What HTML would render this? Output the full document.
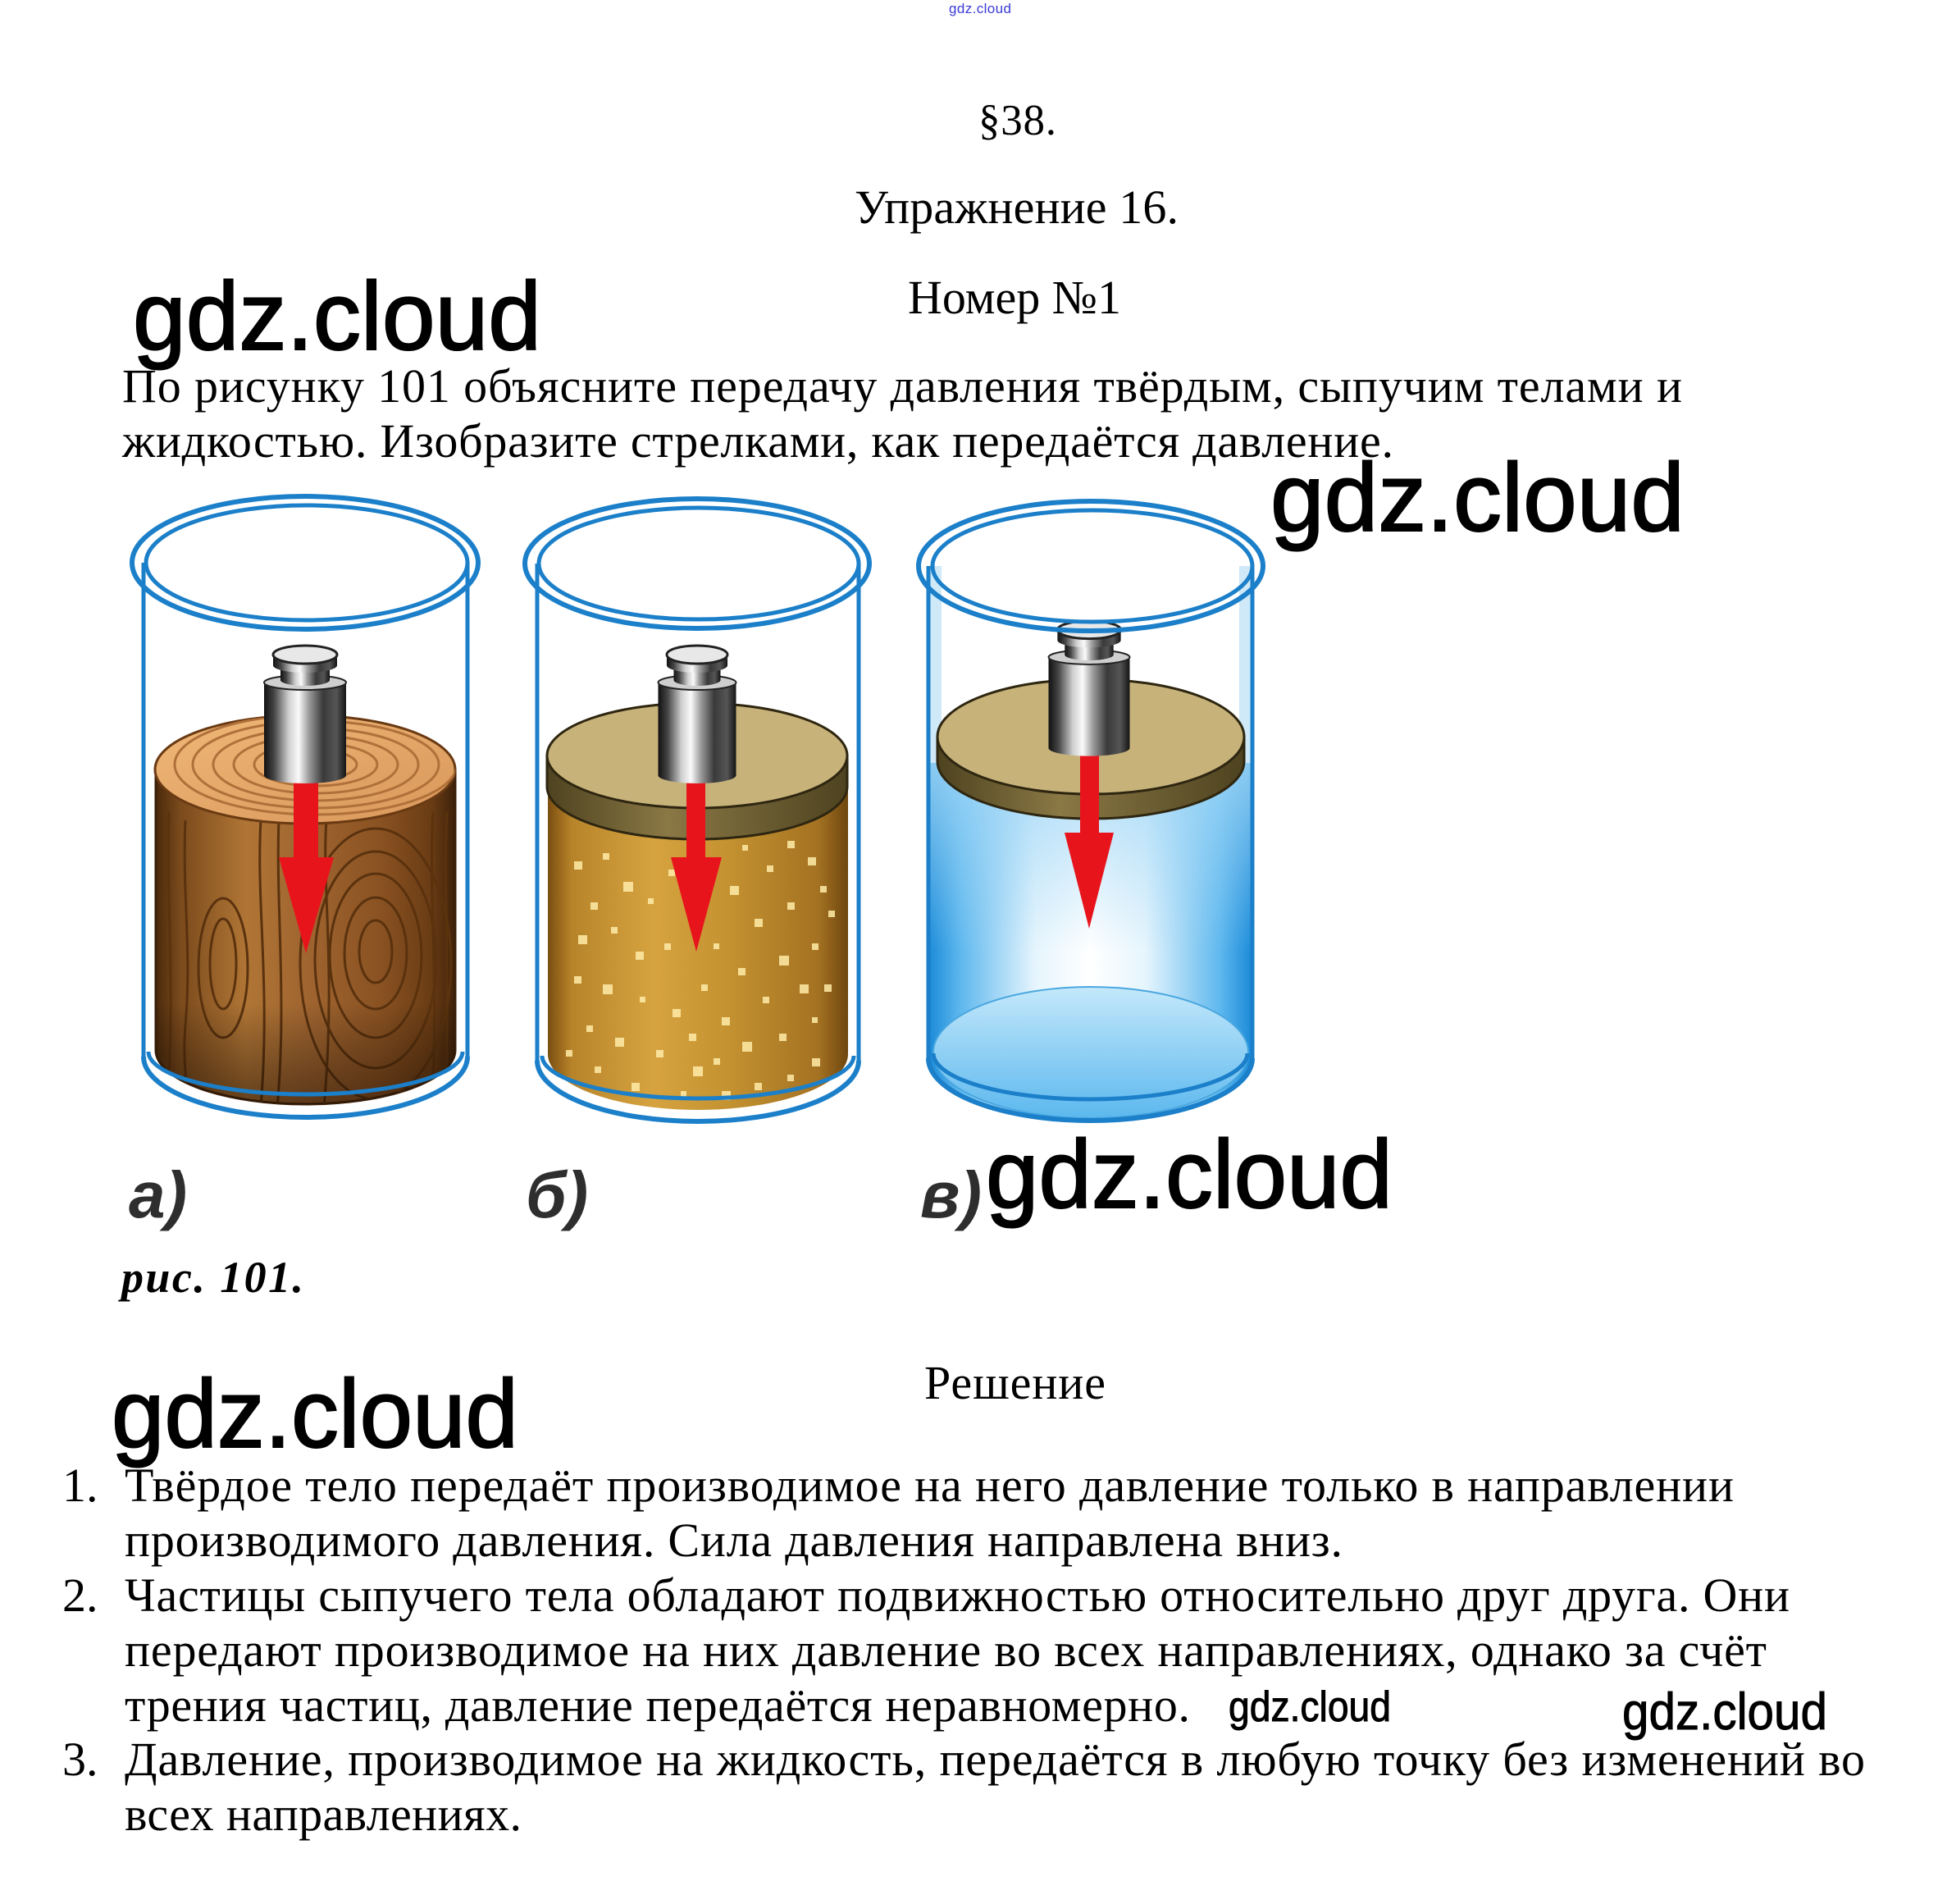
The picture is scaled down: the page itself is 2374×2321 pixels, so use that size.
<!DOCTYPE html>
<html><head><meta charset="utf-8"><style>
html,body{margin:0;padding:0;background:#fff;}
svg{display:block;}
</style></head><body>
<svg width="2374" height="2321" viewBox="0 0 2374 2321" xmlns="http://www.w3.org/2000/svg">
<defs>
<linearGradient id="metal" x1="0" x2="1" y1="0" y2="0">
<stop offset="0" stop-color="#111"/><stop offset=".12" stop-color="#444"/><stop offset=".3" stop-color="#cfcfcf"/><stop offset=".42" stop-color="#fafafa"/><stop offset=".55" stop-color="#9a9a9a"/><stop offset=".72" stop-color="#3a3a3a"/><stop offset=".88" stop-color="#555"/><stop offset="1" stop-color="#151515"/>
</linearGradient>
<linearGradient id="woodBody" x1="0" x2="1" y1="0" y2="0">
<stop offset="0" stop-color="#4a290b"/><stop offset=".08" stop-color="#7a4a1c"/><stop offset=".3" stop-color="#b07535"/><stop offset=".5" stop-color="#a06530"/><stop offset=".75" stop-color="#8a5222"/><stop offset=".92" stop-color="#6a3c14"/><stop offset="1" stop-color="#3e220a"/>
</linearGradient>
<linearGradient id="woodShade" x1="0" x2="0" y1="0" y2="1">
<stop offset="0" stop-color="#000" stop-opacity="0"/><stop offset=".7" stop-color="#000" stop-opacity="0"/><stop offset="1" stop-color="#1a0c02" stop-opacity=".5"/>
</linearGradient>
<linearGradient id="woodTop" x1="0" x2="1" y1="0" y2="1">
<stop offset="0" stop-color="#f0b878"/><stop offset="1" stop-color="#d8975a"/>
</linearGradient>
<linearGradient id="sand" x1="0" x2="1" y1="0" y2="0">
<stop offset="0" stop-color="#7a4e10"/><stop offset=".08" stop-color="#b8842a"/><stop offset=".35" stop-color="#d6a340"/><stop offset=".6" stop-color="#c49230"/><stop offset=".9" stop-color="#a47222"/><stop offset="1" stop-color="#6e460e"/>
</linearGradient>
<linearGradient id="diskSide" x1="0" x2="1" y1="0" y2="0">
<stop offset="0" stop-color="#4e4320"/><stop offset=".4" stop-color="#8a7845"/><stop offset="1" stop-color="#4e4320"/>
</linearGradient>
<linearGradient id="water" x1="0" x2="1" y1="0" y2="0">
<stop offset="0" stop-color="#1a8ad8"/><stop offset=".1" stop-color="#5fb8ee"/><stop offset=".33" stop-color="#e6f5fd"/><stop offset=".5" stop-color="#ffffff"/><stop offset=".67" stop-color="#e6f5fd"/><stop offset=".9" stop-color="#5fb8ee"/><stop offset="1" stop-color="#1a8ad8"/>
</linearGradient>
<linearGradient id="waterTop" x1="0" x2="0" y1="0" y2="1">
<stop offset="0" stop-color="#9fd6f6" stop-opacity=".85"/><stop offset="1" stop-color="#9fd6f6" stop-opacity="0"/>
</linearGradient>
<linearGradient id="waterBottom" x1="0" x2="0" y1="0" y2="1">
<stop offset="0" stop-color="#c4e8fb"/><stop offset="1" stop-color="#5cb8ee"/>
</linearGradient>
<clipPath id="woodTopClip"><ellipse cx="372" cy="938" rx="183" ry="66"/></clipPath>
<clipPath id="woodBodyClip"><path d="M190 938 L190 1280 A182.5 66 0 0 0 555 1280 L555 938 Z"/></clipPath>
<clipPath id="sandClip"><path d="M668 960 L668 1285 A183 68 0 0 0 1034 1285 L1034 960 Z"/></clipPath>
<g id="wt">
 <path d="M-50 45 L-50 158 A50 10 0 0 0 50 158 L50 45 Z" fill="url(#metal)"/>
 <ellipse cx="0" cy="45" rx="50" ry="9" fill="#cfcfcf" stroke="#222" stroke-width="2"/>
 <path d="M-30 24 L-30 42 A30 7 0 0 0 30 42 L30 24 Z" fill="url(#metal)"/>
 <path d="M-39 11 L-39 24 A39 9 0 0 0 39 24 L39 11 Z" fill="url(#metal)"/>
 <ellipse cx="0" cy="11" rx="39" ry="11" fill="#e8e8e8" stroke="#222" stroke-width="3"/>
</g>
</defs>

<!-- tiny link -->
<text x="1157" y="16" font-family="Liberation Sans, sans-serif" font-size="17" fill="#3b3bd6" textLength="76">gdz.cloud</text>

<!-- headings -->
<g font-family="Liberation Serif, serif" fill="#000">
<text x="1193" y="164" font-size="53" textLength="95">§38.</text>
<text x="1042" y="272" font-size="58" textLength="395">Упражнение 16.</text>
<text x="1107" y="382" font-size="58" textLength="260">Номер №1</text>
<text x="149" y="490" font-size="58" textLength="1902">По рисунку 101 объясните передачу давления твёрдым, сыпучим телами и</text>
<text x="149" y="557" font-size="58" textLength="1550">жидкостью. Изобразите стрелками, как передаётся давление.</text>
<text x="1127" y="1705" font-size="58" textLength="221">Решение</text>
<text x="76" y="1830" font-size="58">1.</text>
<text x="76" y="1964" font-size="58">2.</text>
<text x="76" y="2164" font-size="58">3.</text>
<text x="152" y="1830" font-size="58" textLength="1962">Твёрдое тело передаёт производимое на него давление только в направлении</text>
<text x="152" y="1897" font-size="58" textLength="1485">производимого давления. Сила давления направлена вниз.</text>
<text x="152" y="1964" font-size="58" textLength="2030">Частицы сыпучего тела обладают подвижностью относительно друг друга. Они</text>
<text x="152" y="2031" font-size="58" textLength="2002">передают производимое на них давление во всех направлениях, однако за счёт</text>
<text x="152" y="2098" font-size="58" textLength="1299">трения частиц, давление передаётся неравномерно.</text>
<text x="152" y="2164" font-size="58" textLength="2122">Давление, производимое на жидкость, передаётся в любую точку без изменений во</text>
<text x="152" y="2231" font-size="58" textLength="484">всех направлениях.</text>
<text x="148" y="1575" font-size="54" font-weight="bold" font-style="italic" textLength="222">рис. 101.</text>
</g>

<!-- ===== Beaker A (wood) ===== -->
<g>
 <path d="M190 938 L190 1280 A182.5 66 0 0 0 555 1280 L555 938 Z" fill="url(#woodBody)" stroke="#3a1f08" stroke-width="3"/>
 <g clip-path="url(#woodBodyClip)" fill="none" stroke="#5a320e" stroke-width="3">
  <path d="M206 990 C202 1090 214 1190 204 1350"/>
  <path d="M226 1000 C222 1090 234 1160 226 1250 C222 1300 230 1330 228 1350"/>
  <ellipse cx="272" cy="1175" rx="16" ry="55"/>
  <ellipse cx="272" cy="1180" rx="30" ry="85"/>
  <path d="M318 1000 C312 1100 330 1200 318 1350"/>
  <path d="M340 1000 C336 1100 350 1220 338 1350"/>
  <path d="M398 1000 C392 1080 410 1180 395 1350"/>
  <ellipse cx="458" cy="1160" rx="20" ry="38"/>
  <ellipse cx="458" cy="1162" rx="38" ry="68"/>
  <ellipse cx="458" cy="1165" rx="56" ry="100"/>
  <ellipse cx="458" cy="1170" rx="74" ry="132"/>
  <ellipse cx="458" cy="1175" rx="92" ry="165"/>
  <path d="M528 990 C522 1090 536 1200 526 1350"/>
  <path d="M545 990 C540 1090 550 1200 542 1350"/>
 </g>
 <path d="M190 938 L190 1280 A182.5 66 0 0 0 555 1280 L555 938 Z" fill="url(#woodShade)"/>
 <ellipse cx="372" cy="938" rx="183" ry="66" fill="url(#woodTop)" stroke="#6a3a12" stroke-width="3"/>
 <g clip-path="url(#woodTopClip)" fill="none" stroke="#b0703a" stroke-width="3">
  <ellipse cx="385" cy="932" rx="25" ry="9"/>
  <ellipse cx="385" cy="932" rx="50" ry="18"/>
  <ellipse cx="385" cy="932" rx="75" ry="26"/>
  <ellipse cx="385" cy="932" rx="100" ry="35"/>
  <ellipse cx="385" cy="932" rx="125" ry="44"/>
  <ellipse cx="385" cy="932" rx="150" ry="53"/>
  <ellipse cx="385" cy="932" rx="172" ry="61"/>
 </g>
 <rect x="358" y="945" width="30" height="102" fill="#e8141c"/>
 <polygon points="340,1045 407,1045 373,1162" fill="#e8141c"/>
 <use href="#wt" transform="translate(372,787)"/>
 <!-- glass -->
 <g fill="none" stroke="#1b7fc9">
  <line x1="175" y1="686" x2="175" y2="1290" stroke-width="5"/>
  <line x1="570" y1="686" x2="570" y2="1290" stroke-width="5"/>
  <path d="M175 1288 A197.5 74 0 0 0 570 1288" stroke-width="6"/>
  <path d="M181 1282 A191.5 52 0 0 0 564 1282" stroke-width="5"/>
  <ellipse cx="372" cy="686" rx="211" ry="81" stroke-width="6"/>
  <ellipse cx="374" cy="686" rx="196" ry="70" stroke-width="5"/>
 </g>
</g>

<!-- ===== Beaker B (sand) ===== -->
<g>
 <path d="M668 960 L668 1285 A183 68 0 0 0 1034 1285 L1034 960 Z" fill="url(#sand)"/>
 <g clip-path="url(#sandClip)" fill="#ffeca8" opacity=".85">
  <rect x="700" y="1050" width="10" height="10"/><rect x="735" y="1040" width="8" height="8"/><rect x="760" y="1075" width="12" height="12"/><rect x="720" y="1100" width="9" height="9"/><rect x="790" y="1095" width="7" height="7"/><rect x="705" y="1140" width="11" height="11"/><rect x="745" y="1130" width="8" height="8"/><rect x="775" y="1160" width="10" height="10"/><rect x="810" y="1150" width="8" height="8"/><rect x="700" y="1190" width="9" height="9"/><rect x="735" y="1200" width="12" height="12"/><rect x="780" y="1215" width="7" height="7"/><rect x="820" y="1230" width="10" height="10"/><rect x="715" y="1250" width="8" height="8"/><rect x="750" y="1265" width="11" height="11"/><rect x="800" y="1280" width="9" height="9"/><rect x="845" y="1300" width="12" height="12"/><rect x="725" y="1300" width="8" height="8"/><rect x="770" y="1320" width="10" height="10"/><rect x="830" y="1330" width="7" height="7"/><rect x="880" y="1330" width="11" height="11"/><rect x="920" y="1320" width="9" height="9"/><rect x="960" y="1310" width="8" height="8"/><rect x="990" y="1290" width="10" height="10"/><rect x="870" y="1290" width="8" height="8"/><rect x="905" y="1270" width="12" height="12"/><rect x="950" y="1260" width="9" height="9"/><rect x="990" y="1240" width="7" height="7"/><rect x="880" y="1240" width="10" height="10"/><rect x="930" y="1215" width="8" height="8"/><rect x="975" y="1200" width="11" height="11"/><rect x="900" y="1180" width="9" height="9"/><rect x="950" y="1165" width="12" height="12"/><rect x="990" y="1150" width="8" height="8"/><rect x="870" y="1150" width="7" height="7"/><rect x="920" y="1120" width="10" height="10"/><rect x="960" y="1100" width="9" height="9"/><rect x="1000" y="1080" width="8" height="8"/><rect x="890" y="1080" width="11" height="11"/><rect x="935" y="1055" width="8" height="8"/><rect x="985" y="1045" width="10" height="10"/><rect x="905" y="1030" width="7" height="7"/><rect x="960" y="1025" width="9" height="9"/><rect x="1010" y="1110" width="8" height="8"/><rect x="855" y="1200" width="8" height="8"/><rect x="840" y="1260" width="9" height="9"/><rect x="1005" y="1200" width="9" height="9"/><rect x="690" y="1280" width="8" height="8"/><rect x="815" y="1060" width="8" height="8"/>
 </g>
 <path d="M667 921 L667 959 A183 64 0 0 0 1033 959 L1033 921 Z" fill="url(#diskSide)" stroke="#2e2610" stroke-width="3"/>
 <ellipse cx="850" cy="921" rx="183" ry="64" fill="#c7b27a" stroke="#2e2610" stroke-width="3"/>
 <rect x="837" y="945" width="23" height="102" fill="#e8141c"/>
 <polygon points="818,1045 880,1045 849,1160" fill="#e8141c"/>
 <use href="#wt" transform="translate(850,787) scale(0.95,1)"/>
 <g fill="none" stroke="#1b7fc9">
  <line x1="655" y1="687" x2="655" y2="1295" stroke-width="5"/>
  <line x1="1047" y1="687" x2="1047" y2="1295" stroke-width="5"/>
  <path d="M655 1293 A196 74 0 0 0 1047 1293" stroke-width="6"/>
  <path d="M661 1287 A190 52 0 0 0 1041 1287" stroke-width="5"/>
  <ellipse cx="850" cy="687" rx="210" ry="79" stroke-width="6"/>
  <ellipse cx="852" cy="687" rx="195" ry="68" stroke-width="5"/>
 </g>
</g>

<!-- ===== Beaker C (water) ===== -->
<g>
 <rect x="1134" y="690" width="14" height="240" fill="#cfe9f9"/>
 <rect x="1511" y="690" width="14" height="240" fill="#cfe9f9"/>
 <path d="M1132 930 L1132 1290 A197.5 76 0 0 0 1527 1290 L1527 930 Z" fill="url(#water)"/>
 <rect x="1134" y="930" width="391" height="230" fill="url(#waterTop)"/>
 <ellipse cx="1330" cy="1283" rx="192" ry="80" fill="url(#waterBottom)" stroke="#4aa8e0" stroke-width="2"/>
 <path d="M1143 898 L1143 928 A187 70 0 0 0 1517 928 L1517 898 Z" fill="url(#diskSide)" stroke="#2e2610" stroke-width="3"/>
 <ellipse cx="1330" cy="898" rx="187" ry="70" fill="#c7b27a" stroke="#2e2610" stroke-width="3"/>
 <rect x="1317" y="918" width="23" height="99" fill="#e8141c"/>
 <polygon points="1298,1015 1358,1015 1328,1132" fill="#e8141c"/>
 <use href="#wt" transform="translate(1328,757) scale(0.99,0.98)"/>
 <g fill="none" stroke="#1b7fc9">
  <line x1="1132" y1="690" x2="1132" y2="1292" stroke-width="5"/>
  <line x1="1527" y1="690" x2="1527" y2="1292" stroke-width="5"/>
  <path d="M1132 1290 A197.5 76 0 0 0 1527 1290" stroke-width="6"/>
  <path d="M1138 1284 A191.5 56 0 0 0 1521 1284" stroke-width="5"/>
  <ellipse cx="1330" cy="690" rx="210" ry="79" stroke-width="6"/>
  <ellipse cx="1332" cy="690" rx="195" ry="68" stroke-width="5"/>
 </g>
</g>

<!-- labels -->
<g font-family="Liberation Sans, sans-serif" font-weight="bold" font-style="italic" font-size="80" fill="#2e2e2e">
<text x="157" y="1484">а)</text>
<text x="641" y="1484">б)</text>
<text x="1122" y="1484">в)</text>
</g>

<!-- watermarks -->
<g font-family="Liberation Sans, sans-serif" fill="#000" stroke="#000">
<text x="162" y="426" font-size="118" stroke-width="2" textLength="498" lengthAdjust="spacingAndGlyphs">gdz.cloud</text>
<text x="1549" y="647" font-size="118" stroke-width="2" textLength="505" lengthAdjust="spacingAndGlyphs">gdz.cloud</text>
<text x="1202" y="1472" font-size="118" stroke-width="2" textLength="496" lengthAdjust="spacingAndGlyphs">gdz.cloud</text>
<text x="136" y="1764" font-size="118" stroke-width="2" textLength="496" lengthAdjust="spacingAndGlyphs">gdz.cloud</text>
<text x="1498" y="2098" font-size="52" stroke-width="1" textLength="198" lengthAdjust="spacingAndGlyphs">gdz.cloud</text>
<text x="1978" y="2108" font-size="63" stroke-width="1" textLength="250" lengthAdjust="spacingAndGlyphs">gdz.cloud</text>
</g>
</svg>
</body></html>
